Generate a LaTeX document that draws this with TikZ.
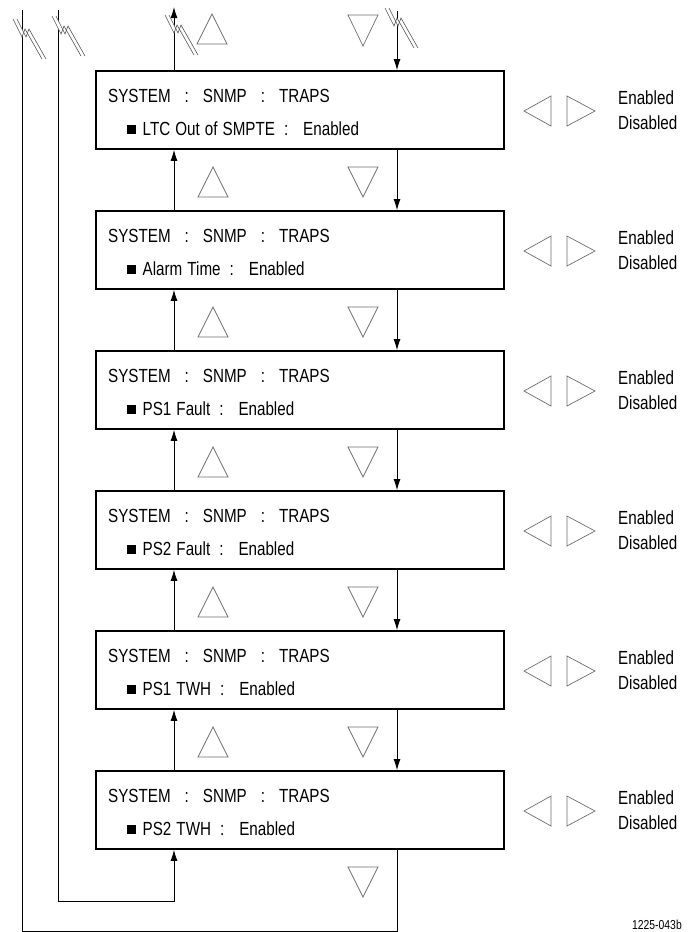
\documentclass[tikz,border=0pt]{standalone}
\usepackage{fontspec}
\setmainfont[FakeStretch=0.8, WordSpace=1.2]{Liberation Sans}
\usetikzlibrary{arrows.meta}
\definecolor{trigray}{HTML}{6E6E6E}
\definecolor{brkgray}{HTML}{555555}
\begin{document}
\begin{tikzpicture}[x=1pt,y=-1pt,
  box/.style={draw, line width=1.7pt, minimum width=408pt, minimum height=78pt, inner sep=0pt},
  txt/.style={anchor=base west, inner sep=0pt, font=\fontsize{19}{19}\selectfont},
  tri/.style={draw=trigray, line width=0.7pt, fill=white, line join=miter},
  conn/.style={line width=0.9pt},
  arr/.style={conn, -{Latex[length=11pt,width=7pt]}},
  brk/.pic={
    \fill[white] (-9,-14) -- (0,4) -- (3,-4) -- (20,26) -- (24,26) -- (7,-4) -- (4,4) -- (-5,-14) -- cycle;
    \draw[brkgray, line width=0.6pt] (-9,-14) -- (0,4) -- (3,-4) -- (20,26);
    \draw[brkgray, line width=0.6pt] (-5,-14) -- (4,4) -- (7,-4) -- (24,26);
  },
]
\useasboundingbox (0,0) rectangle (689,932);
\coordinate (ux) at (174,0);
\coordinate (dx) at (397,0);

\foreach \i/\lbl in {1/LTC Out of SMPTE, 2/Alarm Time, 3/PS1 Fault, 4/PS2 Fault, 5/PS1 TWH, 6/PS2 TWH}{
  \pgfmathsetmacro{\yc}{110+140*(\i-1)}
  \node[box] (b\i) at (300,\yc) {};
  \node[txt] (h\i) at (108,\yc-8) {SYSTEM\hspace{14pt}:\hspace{14pt}SNMP\hspace{14pt}:\hspace{14pt}TRAPS};
  \node[txt] (s\i) at (127,\yc+25) {\raisebox{1.5pt}{\rule{8.5pt}{8.5pt}}\hspace{7pt}\lbl\hspace{9pt}:\hspace{15pt}Enabled};
  \draw[tri] (524,\yc+1) -- (551,\yc-14) -- (551,\yc+16) -- cycle;
  \draw[tri] (595,\yc+1) -- (567,\yc-14) -- (567,\yc+16) -- cycle;
  \node[txt] (en\i) at (618,\yc-6) {Enabled};
  \node[txt] (di\i) at (618,\yc+19) {Disabled};
}

% triangles between boxes
\foreach \o in {0,140,280,420,560}{
  \draw[tri] (198,197+\o) -- (228,197+\o) -- (213,167+\o) -- cycle;
  \draw[tri] (348,167+\o) -- (378,167+\o) -- (363,197+\o) -- cycle;
}
\draw[tri] (197,44) -- (227,44) -- (212,14) -- cycle;
\draw[tri] (348,15) -- (378,15) -- (363,46) -- cycle;
\draw[tri] (348,867) -- (378,867) -- (363,897) -- cycle;

% connectors between boxes
\foreach \a/\b in {1/2,2/3,3/4,4/5,5/6}{
  \draw[arr] (b\b.north -| ux) -- (b\a.south -| ux);
  \draw[arr] (b\a.south -| dx) -- (b\b.north -| dx);
}

% top connectors
\coordinate (topU) at (174,7);
\coordinate (topD) at (397,11);
\draw[arr] (b1.north -| ux) -- (topU);
\draw[arr] (topD) -- (b1.north -| dx);

% return loops
\coordinate (L2) at (58,10);
\coordinate (L2b) at (58,901);
\coordinate (L1) at (22,10);
\coordinate (L1b) at (22,931);
\draw[arr] (L2) -- (L2b) -| (b6.south -| ux);
\draw[conn] (L1) -- (L1b) -| (b6.south -| dx);

% break marks
\pic at (22,33) {brk};
\pic at (61,30) {brk};
\pic at (174,29) {brk};
\pic at (394,22) {brk};

\node[anchor=base east, inner sep=0pt, font=\fontsize{13}{13}\selectfont] (code) at (682,929) {1225-043b};
\end{tikzpicture}
\end{document}
